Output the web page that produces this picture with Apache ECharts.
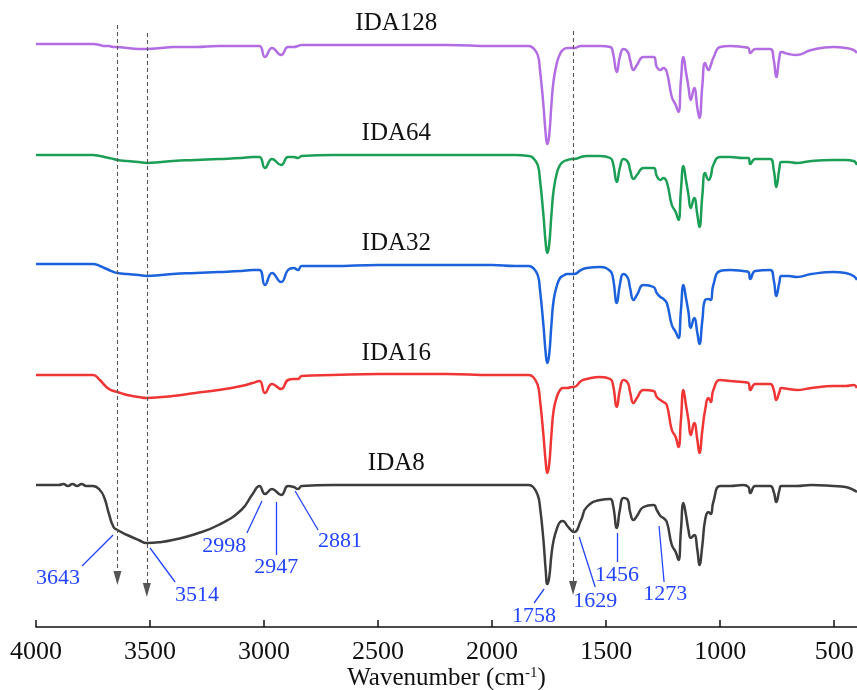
<!DOCTYPE html>
<html lang="en">
<head>
    <meta charset="UTF-8">
    <title>FTIR spectra</title>
    <script src="https://cdn.jsdelivr.net/npm/echarts@6/dist/echarts.min.js"></script>
    <style>
        html, body { margin: 0; padding: 0; background: #fff; }
        #chart { width: 857px; height: 690px; }
    </style>
</head>
<body>
    <div id="chart"></div>
    <script>
        // wavenumber grid (cm-1), shared by all spectra
        const wavenumber = [
            4000, 3900, 3880, 3860, 3840, 3820, 3800, 3780, 3750,
            3720, 3700, 3680, 3660, 3643, 3600, 3550, 3514, 3450, 3400,
            3300, 3200, 3100, 3050, 3020, 2996, 2965, 2925, 2895, 2870,
            2851, 2835, 2700, 2500, 2200, 2000, 1900, 1840, 1820, 1800,
            1790, 1775, 1765, 1758, 1750, 1740, 1730, 1715, 1702, 1690,
            1670, 1650, 1640, 1610, 1585, 1526, 1482, 1470, 1453, 1440,
            1424, 1405, 1395, 1380, 1365, 1336, 1292, 1278, 1262, 1249,
            1234, 1212, 1195, 1183, 1172, 1161, 1150, 1139, 1129, 1114,
            1100, 1091, 1078, 1066, 1051, 1041, 1030, 1000, 956, 900,
            876, 868, 846, 781, 765, 754, 740, 732, 700, 664,
            600, 503, 450, 415, 400
        ];

        // transmittance drop below each baseline (a.u.)
        const dropIDA8 = [
            0, 0, -1, 1, -1, 1, -1, 1, 1,
            5, 13, 29, 42, 45, 50, 55, 58, 57, 55,
            49, 40, 25, 9, 1, 9, 4, 10, 1, 2,
            4, 1, 0, 0, 0, 0, 0, 0, 2, 10,
            22, 55, 85, 99, 93, 70, 55, 43, 37, 36,
            41, 46, 47, 35, 22, 15, 14, 20, 43, 25,
            13, 15, 27, 35, 31, 22, 20, 25, 31, 33,
            37, 60, 67, 75, 45, 18, 30, 45, 53, 50,
            65, 80, 60, 35, 27, 29, 17, 1, 1, 0,
            2, 8, 1, 1, 7, 17, 5, 1, 1, 1,
            0, 1, 2, 5, 7
        ];
        const dropIDA16 = [
            0, 0, 0, 0, 0, 0, 0, 0, 0,
            5, 10, 14, 16, 17, 20, 22, 23, 22, 21,
            18, 15, 11, 8, 6, 18, 9, 14, 5, 4,
            4, 1, 0, -1, -1, 0, 0, 0, 2, 10,
            25, 60, 87, 98, 90, 60, 35, 21, 15, 13,
            13, 12, 12, 6, 4, 2, 4, 10, 32, 15,
            5, 8, 17, 28, 23, 15, 16, 22, 25, 27,
            30, 55, 62, 72, 45, 15, 30, 45, 60, 48,
            65, 78, 55, 35, 23, 27, 15, 5, 6, 7,
            8, 15, 9, 9, 15, 25, 17, 13, 14, 15,
            13, 11, 11, 10, 13
        ];
        const dropIDA32 = [
            -1, -1, -1, -1, -1, -1, -1, -1, -1,
            1, 3, 5, 7, 8, 9, 10, 11, 10, 9,
            8, 7, 6, 5, 5, 20, 8, 17, 5, 3,
            5, 1, 1, 0, 0, 0, 1, 1, 3, 10,
            25, 60, 88, 98, 90, 60, 35, 20, 13, 11,
            9, 9, 9, 5, 3, 2, 6, 13, 38, 20,
            9, 13, 23, 35, 30, 20, 22, 28, 32, 34,
            38, 60, 67, 73, 45, 20, 33, 47, 63, 53,
            68, 79, 55, 35, 34, 35, 20, 6, 5, 6,
            7, 14, 6, 5, 15, 31, 17, 11, 11, 12,
            9, 7, 8, 11, 15
        ];
        const dropIDA64 = [
            0, 0, 0, 0, 0, 0, 0, 0, 0,
            1, 2, 3, 4, 5, 6, 7, 8, 7, 6,
            5, 4, 3, 2, 2, 13, 4, 10, 2, 2,
            3, 1, 0, 0, 0, 0, 0, 1, 3, 10,
            25, 60, 88, 98, 90, 60, 35, 17, 10, 7,
            5, 4, 4, 2, 1, 1, 3, 8, 27, 13,
            4, 7, 15, 24, 20, 13, 13, 21, 25, 23,
            27, 50, 57, 65, 35, 11, 25, 40, 53, 43,
            60, 72, 40, 18, 25, 21, 10, 2, 2, 3,
            3, 9, 4, 4, 15, 32, 13, 7, 7, 8,
            6, 5, 5, 6, 10
        ];
        const dropIDA128 = [
            -1, -1, -1, -1, -1, -1, -1, -1, -1,
            0, 1, 1, 2, 2, 3, 4, 4, 3, 2,
            2, 1, 1, 1, 1, 12, 3, 10, 2, 2,
            1, 0, 0, 0, 0, 1, 1, 1, 3, 10,
            25, 60, 89, 99, 91, 60, 35, 17, 9, 5,
            3, 3, 3, 1, 1, 1, 2, 8, 27, 12,
            4, 7, 15, 25, 20, 12, 12, 22, 25, 23,
            27, 52, 60, 67, 35, 12, 27, 42, 55, 43,
            63, 73, 40, 18, 25, 20, 13, 2, 1, 2,
            3, 8, 4, 4, 15, 32, 12, 7, 9, 10,
            5, 2, 3, 5, 8
        ];

        const sampleNames = ['IDA8', 'IDA16', 'IDA32', 'IDA64', 'IDA128'];
        const sampleDrops = [dropIDA8, dropIDA16, dropIDA32, dropIDA64, dropIDA128];
        const sampleOffsets = [0, 110, 220, 330, 440];
        const sampleColors = ['#3d3d3d', '#f03535', '#1c62dc', '#1b9e55', '#b26de3'];
        const xTicks = [500, 1000, 1500, 2000, 2500, 3000, 3500, 4000];

        // peak annotations on IDA8: label, leader start, leader end, text position
        const peakText = ['3643', '3514', '2998', '2947', '2881', '1758', '1629', '1456', '1273'];
        const leaderFrom = [[3662, -50], [3500, -63], [3009, -16], [2947, -17], [2864, -6], [1772, -104], [1618, -52], [1452, -48], [1268, -41]];
        const leaderTo = [[3798, -81], [3390, -97], [3075, -48], [2947, -70], [2763, -45], [1816, -118], [1548, -102], [1452, -77], [1246, -97]];
        const textAt = [[3904, -93], [3294, -110], [3175, -61], [2947, -82], [2667, -56], [1816, -131], [1548, -116], [1452, -90], [1241, -109]];

        // dashed guide arrows
        const guideWn = [3643, 3514, 1645];
        const guideTop = [460, 452, 454];
        const guideEnd = [-93, -105, -103];

        const serif = 'Liberation Serif, Times New Roman, serif';
        const blue = '#2445ff';

        const chart = echarts.init(document.getElementById('chart'));

        const series = sampleNames.map(function (name, i) {
            const data = wavenumber.map(function (w, k) {
                return [w, sampleOffsets[i] - sampleDrops[i][k]];
            });
            return {
                name: name,
                type: 'line',
                data: data,
                showSymbol: false,
                smooth: 0.5,
                lineStyle: { color: sampleColors[i], width: 2.5 },
                itemStyle: { color: sampleColors[i] },
                z: 3,
                markPoint: {
                    symbolSize: 0,
                    silent: true,
                    data: [{
                        coord: [2420, sampleOffsets[i]],
                        label: {
                            show: true, position: 'inside', offset: [0, -22],
                            formatter: name, color: '#111', fontSize: 25, fontFamily: serif
                        }
                    }]
                }
            };
        });

        // annotation layer on the IDA8 curve
        const leaderLines = peakText.map(function (t, i) {
            return [
                { coord: leaderFrom[i], symbol: 'none', lineStyle: { color: blue, width: 1.3, type: 'solid' } },
                { coord: leaderTo[i], symbol: 'none' }
            ];
        });
        const guideLines = guideWn.map(function (w, i) {
            return [
                { coord: [w, guideTop[i]], symbol: 'none', lineStyle: { color: '#555', width: 1.1, type: [4, 3] } },
                { coord: [w, guideEnd[i]], symbol: 'triangle', symbolSize: [8, 14], itemStyle: { color: '#444' } }
            ];
        });
        series[0].markLine = {
            silent: true,
            symbol: 'none',
            animation: false,
            label: { show: false },
            data: leaderLines.concat(guideLines)
        };
        series[0].markPoint.data = series[0].markPoint.data.concat(peakText.map(function (t, i) {
            return {
                coord: textAt[i],
                label: {
                    show: true, position: 'inside', formatter: t,
                    color: blue, fontSize: 22, fontFamily: serif
                }
            };
        }));

        chart.setOption({
            animation: false,
            backgroundColor: '#fff',
            grid: { left: 36, right: 0, top: 0, bottom: 63, outerBoundsMode: 'none', containLabel: false },
            xAxis: {
                type: 'value',
                inverse: true,
                min: 400,
                max: 4000,
                name: 'Wavenumber (cm{sup|-1})',
                nameLocation: 'middle',
                nameGap: 39,
                nameMoveOverlap: false,
                nameTextStyle: {
                    color: '#111', fontSize: 25, fontFamily: serif, verticalAlign: 'top',
                    rich: { sup: { fontSize: 15, fontFamily: serif, color: '#111', verticalAlign: 'top', padding: [0, 0, 10, 0] } }
                },
                splitLine: { show: false },
                axisLine: { show: true, onZero: false, lineStyle: { color: '#111', width: 1.5 } },
                axisTick: { show: true, inside: true, length: 7, customValues: xTicks, lineStyle: { color: '#111', width: 1.5 } },
                axisLabel: {
                    customValues: xTicks, color: '#111', fontSize: 26, fontFamily: serif, margin: 12,
                    formatter: function (v) { return String(v); }
                }
            },
            yAxis: {
                type: 'value',
                min: -142,
                max: 485,
                show: false
            },
            series: series
        });
    </script>
</body>
</html>
